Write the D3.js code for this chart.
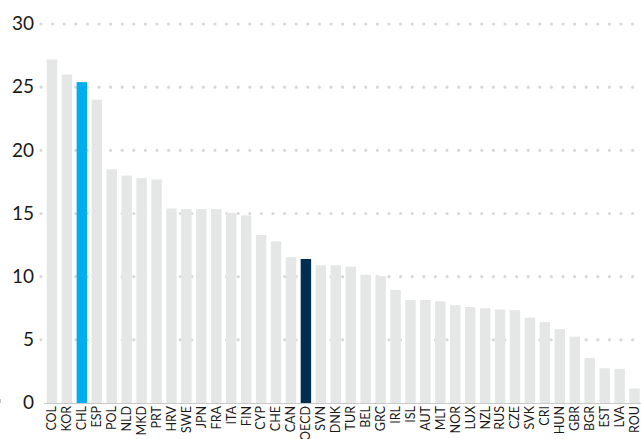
<!DOCTYPE html>
<html>
<head>
<meta charset="utf-8">
<script src="https://cdn.jsdelivr.net/npm/d3@7"></script>
<style>
  body { margin: 0; background: #fff; overflow: hidden; }
  svg { display: block; }
  .yLabel { font-family: Lato, "Noto Sans", sans-serif; font-size: 19px; fill: #1a1a1a; }
  .xTick text { font-family: Lato, "Noto Sans", sans-serif; font-size: 12.5px; fill: #1a1a1a; }
</style>
</head>
<body>
<div id="chart"></div>
<script>
// country codes, sorted as in the picture
var countries = ["COL","KOR","CHL","ESP","POL","NLD","MKD","PRT","HRV","SWE",
  "JPN","FRA","ITA","FIN","CYP","CHE","CAN","OECD","SVN","DNK",
  "TUR","BEL","GRC","IRL","ISL","AUT","MLT","NOR","LUX","NZL",
  "RUS","CZE","SVK","CRI","HUN","GBR","BGR","EST","LVA","ROU"];

var values = [27.2, 26.0, 25.4, 24.0, 18.5, 18.0, 17.8, 17.7, 15.4, 15.35,
  15.35, 15.35, 15.05, 14.85, 13.3, 12.8, 11.55, 11.4, 10.9, 10.9,
  10.8, 10.15, 10.05, 8.95, 8.15, 8.15, 8.05, 7.75, 7.6, 7.5,
  7.4, 7.35, 6.75, 6.4, 5.85, 5.25, 3.55, 2.75, 2.7, 1.15];

var yTicks = [0, 5, 10, 15, 20, 25, 30];

var svgWidth = 641;
var svgHeight = 439;

var data = countries.map((c, i) => ({ code: c, value: values[i] }));

var svg = d3.select("#chart")
  .append("svg")
  .attr("width", svgWidth)
  .attr("height", svgHeight);

// Scales
var x = d3.scaleBand()
  .domain(countries)
  .range([44.5, 642])
  .paddingInner(0.3)
  .paddingOuter(0.15);

var y = d3.scaleLinear()
  .domain([0, 30])
  .range([403, 24]);

// dotted gridlines
svg.append("g")
  .selectAll("line")
  .data(yTicks.filter(d => d > 0))
  .enter()
  .append("line")
  .attr("x1", 41)
  .attr("x2", 641)
  .attr("y1", d => y(d))
  .attr("y2", d => y(d))
  .attr("stroke", "#d8d8d8")
  .attr("stroke-width", 3.2)
  .attr("stroke-linecap", "round")
  .attr("stroke-dasharray", "0,11.6");

// y labels
svg.append("g")
  .selectAll("text")
  .data(yTicks)
  .enter()
  .append("text")
  .attr("class", "yLabel")
  .attr("x", 34)
  .attr("y", d => y(d))
  .attr("dy", "0.33em")
  .attr("text-anchor", "end")
  .text(d => d);

// bars
svg.append("g")
  .selectAll("rect")
  .data(data)
  .enter()
  .append("rect")
  .attr("x", d => x(d.code))
  .attr("width", x.bandwidth())
  .attr("y", d => y(d.value))
  .attr("height", d => y(0) - y(d.value))
  .attr("fill", d => d.code == "CHL" ? "#00aeef" : d.code == "OECD" ? "#002f52" : "#e5e6e6");

// baseline + ticks between bars
var baseline = svg.append("g");
baseline.append("line")
  .attr("x1", 44)
  .attr("x2", 641)
  .attr("y1", y(0) + 0.5)
  .attr("y2", y(0) + 0.5)
  .attr("stroke", "#c8c8c8")
  .attr("stroke-width", 1.2);

baseline.selectAll(".sep")
  .data(countries)
  .enter()
  .append("line")
  .attr("x1", d => x(d.code) - x.step() * x.paddingInner() / 2)
  .attr("x2", d => x(d.code) - x.step() * x.paddingInner() / 2)
  .attr("y1", y(0) - 4)
  .attr("y2", y(0))
  .attr("stroke", "#c8c8c8")
  .attr("stroke-width", 1);

// x labels
var bottomAxis = d3.axisBottom(x).tickSize(0).tickPadding(0);
var xAxisG = svg.append("g")
  .attr("class", "xTick")
  .attr("transform", `translate(0, ${y(0) + 3})`)
  .call(bottomAxis);
xAxisG.select(".domain").remove();
xAxisG.selectAll("text")
  .attr("transform", "rotate(-90)")
  .attr("text-anchor", "end")
  .attr("x", 0)
  .attr("y", 0)
  .attr("dx", 0)
  .attr("dy", "0.35em");
</script>
</body>
</html>
